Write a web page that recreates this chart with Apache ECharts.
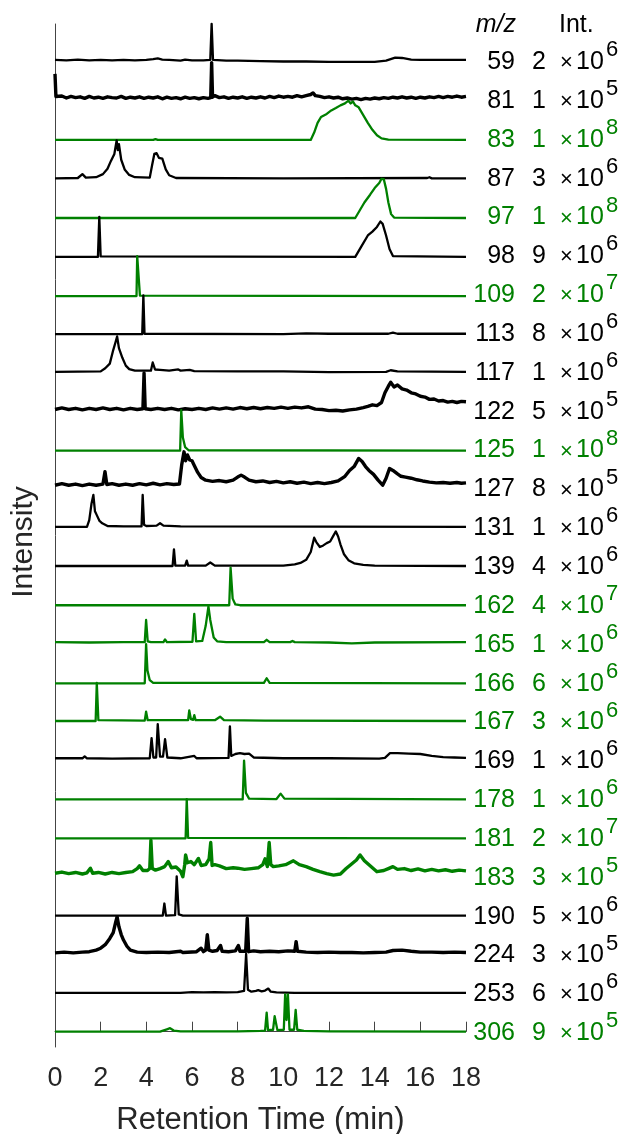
<!DOCTYPE html>
<html>
<head>
<meta charset="utf-8">
<script src="https://cdn.jsdelivr.net/npm/echarts@6/dist/echarts.min.js"></script>
<style>
html,body{margin:0;padding:0;background:#fff;}
#chart{width:626px;height:1134px;}
</style>
</head>
<body>
<div id="chart"></div>
<script>
// ---------------- DATA ----------------
const MZ = [59,81,83,87,97,98,109,113,117,122,125,127,131,139,162,165,166,167,169,178,181,183,190,224,253,306];
const MANTISSA = [2,1,1,3,1,9,2,8,1,5,1,8,1,4,4,1,6,3,1,1,2,3,5,3,6,9];
const EXPONENT = [6,5,8,6,8,6,7,6,6,5,8,5,6,6,7,6,6,6,6,6,7,5,6,5,6,5];
const IS_GREEN = [0,0,1,0,1,0,1,0,0,0,1,0,0,0,1,1,1,1,0,1,1,1,0,0,0,1];
const X_TICKS = [0,2,4,6,8,10,12,14,16,18];

// normalized chromatograms: [retention time (min), relative intensity]
const mz59 = [[0,0.02],[0.5,0.01],[1,0.03],[1.5,0.01],[2,0.02],[2.5,0.01],[3,0.02],[3.5,0.01],[4,0.02],[4.3,0.04],[4.5,0.06],[4.7,0.03],[5,0.02],[5.5,0.0],[5.7,0.03],[6,0.01],[6.5,0.01],[6.8,0.02],[6.86,0.95],[6.92,0.02],[7.5,0.0],[8,0],[9,-0.01],[10,-0.02],[11,-0.02],[12,-0.03],[13,-0.03],[14,-0.03],[14.5,0.0],[14.9,0.08],[15.2,0.07],[15.6,0.03],[16,0.02],[17,0.02],[18,0.02]];
const mz81 = [[0,0.66],[0.04,0.08],[0.1,0.05],[0.3,0.09],[0.5,0.04],[0.7,0.08],[0.9,0.05],[1.1,0.07],[1.3,0.03],[1.5,0.08],[1.7,0.04],[1.9,0.06],[2.1,0.03],[2.3,0.07],[2.5,0.05],[2.7,0.04],[2.9,0.08],[3.1,0.03],[3.3,0.06],[3.5,0.04],[3.7,0.07],[3.9,0.03],[4.1,0.06],[4.3,0.04],[4.5,0.07],[4.7,0.02],[4.9,0.06],[5.1,0.03],[5.3,0.05],[5.5,0.02],[5.7,0.06],[5.9,0.03],[6.1,0.05],[6.3,0.02],[6.5,0.05],[6.7,0.03],[6.82,0.05],[6.86,0.95],[6.9,0.06],[7.0,0.1],[7.2,0.05],[7.4,0.07],[7.6,0.03],[7.8,0.06],[8.0,0.04],[8.2,0.07],[8.4,0.03],[8.6,0.06],[8.8,0.04],[9.0,0.07],[9.2,0.04],[9.4,0.08],[9.6,0.05],[9.8,0.09],[10.0,0.06],[10.2,0.08],[10.4,0.06],[10.6,0.1],[10.8,0.07],[11.0,0.1],[11.2,0.13],[11.3,0.17],[11.4,0.1],[11.6,0.08],[11.8,0.05],[12.0,0.07],[12.2,0.04],[12.4,0.06],[12.6,0.02],[12.8,0.04],[13.0,0.01],[13.2,0.03],[13.4,0.0],[13.6,0.03],[13.8,0.01],[14.0,0.04],[14.2,0.02],[14.4,0.05],[14.6,0.03],[14.8,0.06],[15.0,0.04],[15.2,0.07],[15.4,0.04],[15.6,0.06],[15.8,0.03],[16.0,0.06],[16.2,0.04],[16.4,0.07],[16.6,0.05],[16.8,0.08],[17.0,0.05],[17.2,0.08],[17.4,0.06],[17.6,0.09],[17.8,0.06],[18,0.08]];
const mz83 = [[0,-0.04],[4.3,-0.04],[4.4,-0.02],[4.5,-0.04],[11.2,-0.04],[11.35,0.15],[11.5,0.4],[11.65,0.55],[11.9,0.63],[12.1,0.72],[12.3,0.78],[12.5,0.85],[12.7,0.9],[12.85,0.97],[12.95,0.9],[13.05,0.95],[13.15,0.85],[13.3,0.8],[13.5,0.6],[13.7,0.4],[13.9,0.22],[14.1,0.08],[14.3,0.0],[14.6,-0.03],[18,-0.04]];
const mz87 = [[0,-0.03],[1.0,-0.02],[1.2,0.08],[1.35,-0.01],[1.8,0.0],[2.1,0.08],[2.3,0.22],[2.45,0.42],[2.6,0.6],[2.7,0.95],[2.75,0.7],[2.8,0.85],[2.9,0.45],[3.05,0.2],[3.25,0.06],[3.5,0.0],[4.15,-0.01],[4.25,0.3],[4.35,0.6],[4.45,0.62],[4.55,0.5],[4.7,0.48],[4.85,0.2],[5.0,0.05],[5.3,-0.02],[10,-0.03],[16.3,-0.02],[16.4,0.0],[16.5,-0.03],[18,-0.03]];
const mz97 = [[0,-0.05],[13.15,-0.05],[13.35,0.15],[13.55,0.35],[13.8,0.55],[14.0,0.72],[14.2,0.85],[14.3,0.96],[14.4,0.95],[14.5,0.7],[14.6,0.35],[14.72,0.05],[14.85,-0.04],[18,-0.05]];
const mz98 = [[0,-0.05],[1.88,-0.05],[1.94,0.98],[2.0,-0.04],[13.15,-0.05],[13.4,0.2],[13.7,0.5],[13.9,0.6],[14.1,0.72],[14.25,0.86],[14.35,0.8],[14.5,0.5],[14.65,0.15],[14.8,-0.03],[18,-0.05]];
const mz109 = [[0,-0.06],[3.57,-0.06],[3.6,0.97],[3.72,-0.05],[18,-0.06]];
const mz113 = [[0,-0.04],[3.82,-0.04],[3.87,0.96],[3.92,-0.03],[10,-0.04],[11,-0.02],[12,-0.03],[14.6,-0.03],[14.8,0.0],[15.0,-0.03],[18,-0.03]];
const mz117 = [[0,-0.01],[2.0,0.0],[2.2,0.08],[2.4,0.2],[2.55,0.55],[2.65,0.75],[2.72,0.9],[2.8,0.6],[2.95,0.35],[3.1,0.15],[3.25,0.06],[3.5,0.02],[4.2,0.02],[4.28,0.23],[4.38,0.05],[4.6,0.04],[5.0,0.02],[5.4,0.05],[5.5,0.02],[5.9,0.04],[6.1,0.01],[8,0.0],[10,0.0],[12,-0.02],[14.5,-0.01],[14.7,0.03],[15,0.0],[18,-0.01]];
const mz122 = [[0,0.02],[0.3,0.06],[0.6,0.02],[0.9,0.05],[1.2,0.01],[1.5,0.05],[1.8,0.02],[2.1,0.06],[2.4,0.02],[2.7,0.05],[3.0,0.01],[3.3,0.05],[3.6,0.02],[3.85,0.04],[3.9,0.96],[3.95,0.04],[4.2,0.02],[4.5,0.05],[4.8,0.02],[5.1,0.05],[5.4,0.01],[5.7,0.04],[6.0,0.02],[6.3,0.05],[6.6,0.02],[6.9,0.06],[7.2,0.03],[7.5,0.06],[7.8,0.03],[8.1,0.07],[8.4,0.04],[8.7,0.07],[9.0,0.04],[9.3,0.07],[9.6,0.05],[9.9,0.08],[10.2,0.05],[10.5,0.08],[10.8,0.06],[11.1,0.09],[11.4,0.03],[11.7,0.02],[12.0,-0.01],[12.3,0.0],[12.6,-0.02],[12.9,0.01],[13.2,0.03],[13.5,0.07],[13.7,0.1],[13.9,0.14],[14.1,0.12],[14.3,0.2],[14.45,0.45],[14.6,0.62],[14.7,0.72],[14.85,0.6],[15.0,0.65],[15.2,0.55],[15.4,0.52],[15.6,0.45],[15.8,0.42],[16.0,0.36],[16.2,0.34],[16.4,0.28],[16.6,0.29],[16.8,0.24],[17.0,0.25],[17.2,0.21],[17.4,0.23],[17.6,0.2],[17.8,0.23],[18,0.22]];
const mz125 = [[0,-0.04],[5.48,-0.04],[5.53,1.0],[5.6,0.3],[5.7,0.05],[5.85,-0.03],[18,-0.04]];
const mz127 = [[0,0.07],[0.3,0.11],[0.6,0.07],[0.9,0.1],[1.2,0.06],[1.5,0.1],[1.8,0.07],[2.1,0.1],[2.19,0.42],[2.27,0.09],[2.5,0.11],[2.8,0.07],[3.1,0.1],[3.4,0.07],[3.7,0.11],[4.0,0.08],[4.3,0.12],[4.6,0.08],[4.9,0.11],[5.2,0.09],[5.45,0.1],[5.55,0.6],[5.65,0.93],[5.72,0.7],[5.8,0.85],[5.9,0.72],[6.0,0.7],[6.1,0.58],[6.25,0.4],[6.4,0.27],[6.6,0.2],[6.9,0.17],[7.2,0.19],[7.5,0.16],[7.8,0.2],[8.0,0.28],[8.15,0.33],[8.3,0.28],[8.5,0.2],[8.8,0.16],[9.1,0.18],[9.4,0.14],[9.7,0.17],[10.0,0.13],[10.3,0.16],[10.6,0.12],[10.9,0.15],[11.2,0.11],[11.5,0.14],[11.8,0.11],[12.1,0.14],[12.4,0.18],[12.7,0.3],[12.9,0.45],[13.1,0.55],[13.3,0.76],[13.45,0.68],[13.6,0.55],[13.75,0.45],[13.95,0.35],[14.15,0.2],[14.35,0.07],[14.5,0.25],[14.65,0.5],[14.8,0.45],[15.0,0.36],[15.15,0.3],[15.35,0.28],[15.6,0.25],[15.85,0.21],[16.1,0.18],[16.4,0.15],[16.7,0.13],[17.0,0.14],[17.3,0.12],[17.6,0.14],[17.8,0.12],[18,0.13]];
const mz131 = [[0,0.0],[1.4,0.0],[1.5,0.17],[1.6,0.6],[1.68,0.82],[1.75,0.4],[1.83,0.3],[1.95,0.15],[2.07,0.09],[2.3,0.02],[3.0,0.01],[3.79,0.01],[3.84,0.82],[3.9,0.05],[4.0,0.02],[4.45,0.03],[4.6,0.09],[4.75,0.03],[5.5,0.01],[18,0.0]];
const mz139 = [[0,-0.01],[5.15,-0.01],[5.21,0.42],[5.27,0.0],[5.7,0.0],[5.77,0.13],[5.83,0.0],[6.6,0.0],[6.8,0.08],[7.0,0.0],[10.0,0.0],[10.5,0.03],[10.75,0.07],[11.0,0.15],[11.2,0.35],[11.35,0.72],[11.45,0.6],[11.6,0.48],[11.75,0.52],[11.9,0.58],[12.05,0.62],[12.2,0.78],[12.3,0.88],[12.4,0.75],[12.5,0.55],[12.65,0.3],[12.85,0.14],[13.1,0.06],[13.5,0.02],[14,0.0],[18,-0.01]];
const mz162 = [[0,-0.02],[7.63,-0.02],[7.69,0.95],[7.78,0.15],[7.9,0.0],[8.1,-0.02],[18,-0.02]];
const mz165 = [[0,0.03],[1.5,0.02],[3.0,0.03],[3.93,0.03],[3.99,0.6],[4.06,0.05],[4.2,0.03],[4.75,0.03],[4.82,0.1],[4.9,0.03],[6.02,0.04],[6.1,0.76],[6.18,0.05],[6.45,0.06],[6.6,0.45],[6.72,0.95],[6.8,0.6],[6.95,0.15],[7.1,0.05],[7.5,0.03],[9.15,0.03],[9.27,0.09],[9.4,0.03],[10.3,0.03],[10.4,0.06],[10.5,0.03],[12,0.02],[13,0.0],[14,0.02],[18,0.03]];
const mz166 = [[0,-0.03],[3.93,-0.03],[3.99,0.98],[4.05,0.3],[4.15,0.05],[4.3,-0.02],[6.0,-0.02],[6.05,0.02],[6.1,-0.02],[9.15,-0.02],[9.27,0.1],[9.4,-0.02],[18,-0.03]];
const mz167 = [[0,0.0],[1.78,0.0],[1.83,0.98],[1.9,0.02],[3.93,0.01],[3.99,0.24],[4.06,0.02],[5.83,0.02],[5.88,0.27],[5.95,0.05],[6.05,0.03],[6.1,0.15],[6.16,0.02],[7.0,0.02],[7.23,0.11],[7.4,0.02],[9.2,0.01],[9.27,0.04],[9.35,0.01],[18,0.0]];
const mz169 = [[0,0.04],[1.2,0.04],[1.3,0.09],[1.4,0.04],[2.5,0.03],[4.15,0.04],[4.23,0.56],[4.31,0.06],[4.43,0.06],[4.5,0.92],[4.6,0.08],[4.73,0.08],[4.82,0.53],[4.92,0.06],[5.5,0.04],[6.1,0.1],[6.2,0.04],[7.6,0.05],[7.66,0.86],[7.72,0.1],[7.9,0.15],[8.1,0.17],[8.3,0.15],[8.5,0.16],[8.7,0.06],[10,0.04],[12,0.04],[14.2,0.03],[14.45,0.05],[14.67,0.17],[15.0,0.17],[15.5,0.16],[16.0,0.15],[16.5,0.1],[17.0,0.07],[17.5,0.06],[18,0.05]];
const mz178 = [[0,-0.02],[8.22,-0.02],[8.28,0.98],[8.36,0.15],[8.5,0.0],[9.7,-0.01],[9.88,0.13],[10.05,0.0],[18,-0.02]];
const mz181 = [[0,-0.02],[5.72,-0.02],[5.77,0.99],[5.83,-0.01],[18,-0.02]];
const mz183 = [[0,0.08],[0.3,0.11],[0.6,0.07],[0.9,0.1],[1.2,0.06],[1.4,0.09],[1.55,0.21],[1.65,0.08],[1.9,0.1],[2.2,0.06],[2.5,0.1],[2.8,0.07],[3.1,0.1],[3.4,0.12],[3.6,0.2],[3.7,0.27],[3.85,0.15],[4.05,0.15],[4.15,0.2],[4.2,0.93],[4.26,0.2],[4.4,0.16],[4.6,0.2],[4.8,0.25],[4.96,0.38],[5.1,0.22],[5.3,0.24],[5.5,0.13],[5.6,-0.01],[5.68,0.3],[5.72,0.55],[5.8,0.35],[5.95,0.38],[6.1,0.3],[6.28,0.46],[6.4,0.28],[6.6,0.3],[6.75,0.45],[6.82,0.87],[6.88,0.28],[7.0,0.3],[7.2,0.27],[7.5,0.2],[7.8,0.22],[8.0,0.21],[8.3,0.18],[8.6,0.2],[8.9,0.22],[9.1,0.3],[9.2,0.45],[9.3,0.25],[9.38,0.87],[9.45,0.3],[9.56,0.25],[9.8,0.27],[10.1,0.3],[10.44,0.4],[10.7,0.3],[11.0,0.25],[11.3,0.18],[11.6,0.12],[11.9,0.07],[12.2,0.03],[12.5,0.06],[12.75,0.2],[12.95,0.3],[13.2,0.42],[13.36,0.55],[13.55,0.4],[13.8,0.27],[14.1,0.12],[14.4,0.15],[14.6,0.2],[14.8,0.25],[15.0,0.18],[15.3,0.2],[15.6,0.15],[15.9,0.19],[16.2,0.14],[16.5,0.18],[16.8,0.14],[17.1,0.17],[17.4,0.13],[17.7,0.16],[18,0.14]];
const mz190 = [[0,-0.01],[4.72,-0.01],[4.79,0.3],[4.86,-0.01],[5.26,0.0],[5.33,1.0],[5.42,0.02],[5.6,-0.01],[18,-0.01]];
const mz224 = [[0,0.03],[0.4,0.05],[0.8,0.03],[1.2,0.05],[1.5,0.06],[1.8,0.1],[2.0,0.15],[2.2,0.24],[2.4,0.4],[2.55,0.55],[2.65,0.8],[2.72,0.96],[2.8,0.7],[2.9,0.5],[3.0,0.36],[3.15,0.2],[3.3,0.1],[3.6,0.05],[4.0,0.04],[4.5,0.05],[5.0,0.04],[5.5,0.07],[5.6,0.04],[6.2,0.06],[6.4,0.15],[6.5,0.06],[6.6,0.1],[6.67,0.5],[6.74,0.1],[6.9,0.07],[7.1,0.09],[7.25,0.22],[7.32,0.07],[7.6,0.06],[7.9,0.08],[8.03,0.22],[8.1,0.07],[8.35,0.07],[8.42,0.92],[8.48,0.06],[8.7,0.08],[9.0,0.06],[9.4,0.07],[9.8,0.06],[10.2,0.08],[10.5,0.07],[10.56,0.32],[10.62,0.07],[11,0.05],[11.5,0.04],[12,0.05],[12.5,0.04],[13,0.04],[13.5,0.03],[14,0.04],[14.5,0.05],[14.8,0.09],[15.2,0.1],[15.6,0.07],[16,0.05],[16.5,0.05],[17,0.04],[17.5,0.05],[18,0.04]];
const mz253 = [[0,0.0],[5.5,0.0],[6.0,0.02],[6.5,0.01],[7.0,0.02],[7.5,0.01],[8.0,0.02],[8.28,0.05],[8.37,1.0],[8.45,0.08],[8.6,0.03],[8.8,0.05],[8.9,0.07],[9.05,0.04],[9.2,0.06],[9.34,0.11],[9.45,0.03],[9.7,0.01],[10.5,0.0],[18,0.0]];
const mz306 = [[0,0.0],[4.6,0.0],[4.9,0.06],[5.04,0.09],[5.2,0.03],[5.5,0.01],[8.0,0.01],[9.0,0.02],[9.2,0.03],[9.27,0.49],[9.33,0.04],[9.55,0.05],[9.62,0.4],[9.68,0.43],[9.74,0.04],[10.02,0.05],[10.08,0.96],[10.14,0.3],[10.2,0.96],[10.27,0.05],[10.47,0.05],[10.54,0.56],[10.61,0.05],[10.9,0.02],[12,0.01],[18,0.0]];

const TRACES = [mz59,mz81,mz83,mz87,mz97,mz98,mz109,mz113,mz117,mz122,mz125,mz127,mz131,mz139,mz162,mz165,mz166,mz167,mz169,mz178,mz181,mz183,mz190,mz224,mz253,mz306];

// ---------------- STYLE ----------------
const GREEN = '#008000';
const BLACK = '#000000';
const FONT = '"Liberation Sans", Arial, sans-serif';
const THICK = new Set([81,122,127,183,224]);
const N = TRACES.length;

const chart = echarts.init(document.getElementById('chart'), null, {renderer: 'canvas'});

const series = TRACES.map((tr, i) => ({
  type: 'line',
  name: String(MZ[i]),
  showSymbol: false,
  symbol: 'none',
  silent: true,
  clip: false,
  lineStyle: {
    color: IS_GREEN[i] ? GREEN : BLACK,
    width: THICK.has(MZ[i]) ? 3.4 : 2.3,
    join: 'round'
  },
  data: tr.map(p => [p[0], (N - 1 - i) + p[1]])
}));

chart.setOption({
  animation: false,
  backgroundColor: '#ffffff',
  grid: {left: 55, right: 160, top: 24, bottom: 87, containLabel: false, outerBoundsMode: 'none'},
  xAxis: {
    type: 'value',
    min: 0, max: 18, interval: 2,
    name: 'Retention Time (min)',
    nameLocation: 'middle',
    nameGap: 58,
    nameTextStyle: {fontFamily: FONT, fontSize: 31, color: '#262626'},
    axisLine: {show: true, lineStyle: {color: '#444444', width: 1}},
    axisTick: {show: true, inside: true, length: 10, lineStyle: {color: '#444444', width: 1}},
    axisLabel: {show: true, margin: 18, fontFamily: FONT, fontSize: 27, color: '#262626',
      formatter: v => X_TICKS.includes(v) ? String(v) : ''},
    splitLine: {show: false}
  },
  yAxis: {
    type: 'value',
    min: -0.394, max: 25.945,
    axisLine: {show: true, lineStyle: {color: '#444444', width: 1}},
    axisTick: {show: false},
    axisLabel: {show: false},
    splitLine: {show: false}
  },
  series: series
});

// right-hand labels (m/z and intensity scale), placed at each trace's offset
const graphics = [];
graphics.push({type: 'text', x: 24, y: 542, rotation: Math.PI / 2,
  style: {text: 'Intensity', font: '30px ' + FONT, fill: '#262626', textAlign: 'center', textVerticalAlign: 'middle'}});
graphics.push({type: 'text', x: 516, y: 25, style: {text: 'm/z', font: 'italic 25px ' + FONT, fill: '#000', textAlign: 'right', textVerticalAlign: 'middle'}});
graphics.push({type: 'text', x: 559, y: 25, style: {text: 'Int.', font: '25px ' + FONT, fill: '#000', textAlign: 'left', textVerticalAlign: 'middle'}});
for (let i = 0; i < N; i++) {
  const y = chart.convertToPixel({yAxisIndex: 0}, N - 1 - i) + 1.5;
  const c = IS_GREEN[i] ? GREEN : BLACK;
  graphics.push({type: 'text', x: 515, y: y, style: {text: String(MZ[i]), font: '25px ' + FONT, fill: c, textAlign: 'right', textVerticalAlign: 'middle'}});
  graphics.push({type: 'text', x: 539, y: y, style: {text: String(MANTISSA[i]), font: '25px ' + FONT, fill: c, textAlign: 'center', textVerticalAlign: 'middle'}});
  graphics.push({type: 'text', x: 560, y: y + 1, style: {text: '\u00d7', font: '22px ' + FONT, fill: c, textAlign: 'left', textVerticalAlign: 'middle'}});
  graphics.push({type: 'text', x: 576, y: y, style: {text: '10', font: '25px ' + FONT, fill: c, textAlign: 'left', textVerticalAlign: 'middle'}});
  graphics.push({type: 'text', x: 606, y: y - 12, style: {text: String(EXPONENT[i]), font: '22px ' + FONT, fill: c, textAlign: 'left', textVerticalAlign: 'middle'}});
}
chart.setOption({graphic: graphics});
</script>
</body>
</html>
